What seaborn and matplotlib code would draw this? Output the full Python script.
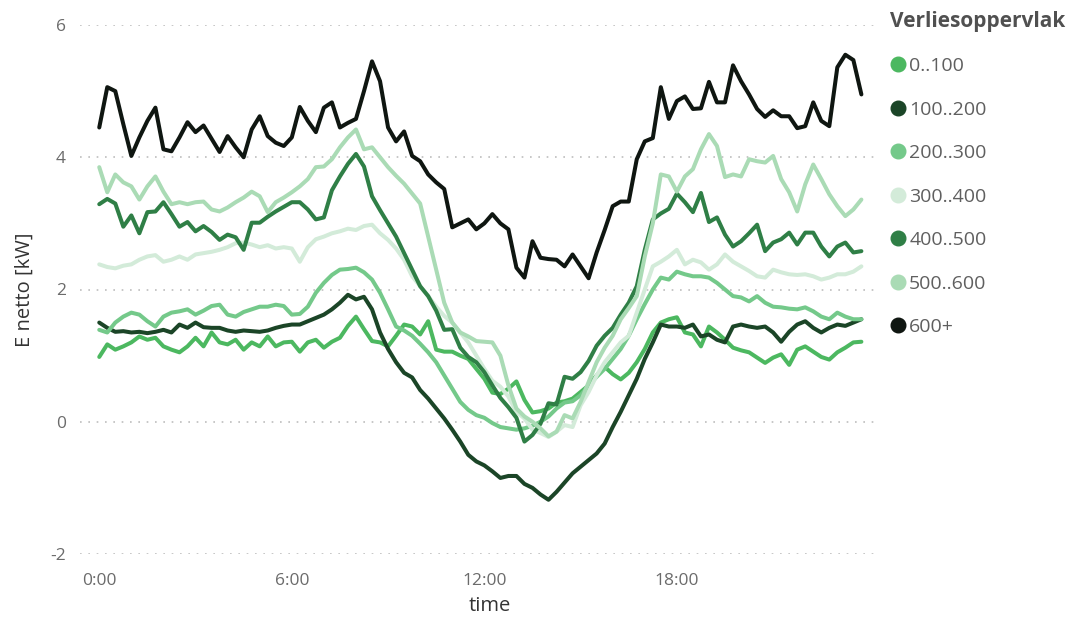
import numpy as np
import pandas as pd
import matplotlib
matplotlib.use("Agg")
import matplotlib.pyplot as plt
from matplotlib.lines import Line2D
import seaborn as sns

# =========================
# DATA (15 minute values, kW)
# =========================

groups = ["0..100", "100..200", "200..300", "300..400", "400..500", "500..600", "600+"]

colors = ["#4cb860", "#1b4527", "#74c98a", "#d3ebd9", "#2f7f46", "#aadbb5", "#0f1611"]

e_0_100 = [
    0.98, 1.17, 1.09, 1.14, 1.2, 1.29, 1.24, 1.27, 1.14, 1.09,
    1.05, 1.14, 1.27, 1.14, 1.35, 1.2, 1.17, 1.24, 1.09, 1.2,
    1.14, 1.29, 1.14, 1.2, 1.21, 1.06, 1.2, 1.24, 1.12, 1.21,
    1.27, 1.45, 1.59, 1.4, 1.22, 1.2, 1.14, 1.3, 1.47, 1.44,
    1.32, 1.52, 1.09, 1.06, 1.06, 1.0, 0.95, 0.8, 0.65, 0.44,
    0.42, 0.5, 0.61, 0.33, 0.14, 0.16, 0.2, 0.29, 0.31, 0.35,
    0.45, 0.55, 0.7, 0.83, 0.72, 0.64, 0.74, 0.9, 1.1, 1.35,
    1.5, 1.55, 1.58, 1.35, 1.32, 1.14, 1.44, 1.35, 1.24, 1.12,
    1.08, 1.05, 0.97, 0.89, 0.97, 1.02, 0.86, 1.09, 1.14, 1.06,
    0.98, 0.94, 1.05, 1.12, 1.2, 1.21,
]

e_100_200 = [
    1.5, 1.42, 1.36, 1.37, 1.35, 1.36, 1.34, 1.36, 1.39, 1.35,
    1.47, 1.42, 1.5, 1.43, 1.42, 1.42, 1.38, 1.36, 1.38, 1.37,
    1.36, 1.38, 1.42, 1.45, 1.47, 1.47, 1.52, 1.57, 1.62, 1.7,
    1.8, 1.92, 1.85, 1.89, 1.7, 1.35, 1.1, 0.9, 0.74, 0.67,
    0.48, 0.35, 0.2, 0.05, -0.12, -0.3, -0.5, -0.6, -0.66, -0.75,
    -0.85, -0.82, -0.82, -0.94, -1.0, -1.1, -1.18, -1.06, -0.92, -0.78,
    -0.68, -0.58, -0.48, -0.33, -0.08, 0.15, 0.4, 0.65, 0.95, 1.2,
    1.47, 1.44, 1.44, 1.42, 1.47, 1.29, 1.32, 1.24, 1.2, 1.44,
    1.47, 1.44, 1.42, 1.44, 1.35, 1.21, 1.36, 1.47, 1.52, 1.42,
    1.35, 1.42, 1.47, 1.45, 1.5, 1.55,
]

e_200_300 = [
    1.39, 1.35, 1.5, 1.59, 1.65, 1.62, 1.52, 1.44, 1.59, 1.65,
    1.67, 1.7, 1.62, 1.68, 1.75, 1.77, 1.62, 1.59, 1.66, 1.7,
    1.74, 1.74, 1.77, 1.75, 1.62, 1.63, 1.74, 1.95, 2.1, 2.22,
    2.3, 2.31, 2.33, 2.26, 2.15, 1.95, 1.7, 1.44, 1.38, 1.3,
    1.18, 1.05, 0.9, 0.7, 0.5, 0.3, 0.18, 0.1, 0.06, -0.02,
    -0.08, -0.1, -0.12, -0.1, -0.06, 0.0, 0.08, 0.2, 0.29, 0.31,
    0.4, 0.55, 0.68, 0.8, 0.95, 1.1, 1.3, 1.55, 1.78, 2.0,
    2.18, 2.15, 2.27, 2.23, 2.2, 2.2, 2.18, 2.1, 2.0, 1.9,
    1.88, 1.82, 1.9, 1.8, 1.74, 1.73, 1.71, 1.7, 1.73, 1.67,
    1.59, 1.55, 1.65, 1.59, 1.55, 1.55,
]

e_300_400 = [
    2.38, 2.34, 2.32, 2.36, 2.38, 2.45, 2.5, 2.52, 2.42, 2.45,
    2.5, 2.45, 2.53, 2.55, 2.57, 2.6, 2.64, 2.7, 2.71, 2.68,
    2.64, 2.67, 2.62, 2.64, 2.62, 2.42, 2.64, 2.76, 2.8, 2.85,
    2.88, 2.92, 2.9, 2.96, 2.98, 2.85, 2.75, 2.62, 2.45, 2.2,
    2.05, 1.9, 1.74, 1.6, 1.5, 1.35, 1.2, 1.0, 0.8, 0.62,
    0.53, 0.38, 0.15, 0.05, -0.12, -0.17, -0.23, -0.15, -0.05, -0.08,
    0.25, 0.45, 0.7, 0.9, 1.05, 1.2, 1.3, 1.65, 2.0, 2.35,
    2.42, 2.5, 2.6, 2.38, 2.45, 2.41, 2.3, 2.38, 2.53, 2.42,
    2.35, 2.28, 2.2, 2.18, 2.3, 2.26, 2.23, 2.22, 2.23, 2.2,
    2.15, 2.18, 2.23, 2.23, 2.27, 2.35,
]

e_400_500 = [
    3.29, 3.37, 3.3, 2.95, 3.12, 2.85, 3.17, 3.18, 3.32, 3.14,
    2.95, 3.02, 2.88, 2.96, 2.87, 2.75, 2.83, 2.79, 2.6, 3.01,
    3.01, 3.1, 3.18, 3.25, 3.32, 3.32, 3.21, 3.06, 3.09, 3.5,
    3.71, 3.9, 4.05, 3.86, 3.41, 3.2, 3.0, 2.8, 2.55, 2.3,
    2.05, 1.9, 1.68, 1.39, 1.4, 1.12, 0.98, 0.9, 0.75, 0.55,
    0.36, 0.22, 0.06, -0.3, -0.2, -0.03, 0.28, 0.26, 0.68, 0.65,
    0.75, 0.92, 1.15, 1.3, 1.42, 1.62, 1.8, 2.05, 2.6, 3.06,
    3.15, 3.22, 3.45, 3.32, 3.17, 3.46, 3.02, 3.09, 2.83, 2.65,
    2.73, 2.85, 2.98, 2.58, 2.71, 2.76, 2.86, 2.68, 2.86, 2.86,
    2.65, 2.5, 2.65, 2.71, 2.56, 2.58,
]

e_500_600 = [
    3.85, 3.47, 3.74, 3.62, 3.56, 3.36, 3.56, 3.71, 3.48, 3.29,
    3.32, 3.29, 3.32, 3.33, 3.21, 3.18, 3.24, 3.32, 3.39, 3.48,
    3.41, 3.17, 3.32, 3.39, 3.47, 3.56, 3.67, 3.85, 3.86, 3.97,
    4.15, 4.3, 4.42, 4.12, 4.15, 4.0, 3.85, 3.72, 3.6, 3.45,
    3.3, 2.8, 2.3, 1.8, 1.5, 1.35, 1.29, 1.22, 1.21, 1.2,
    1.0, 0.55, 0.2, 0.08, 0.0, -0.1, -0.22, -0.15, 0.1, 0.05,
    0.3, 0.6, 0.9, 1.12, 1.3, 1.55, 1.72, 1.9, 2.5, 3.0,
    3.74, 3.71, 3.48, 3.71, 3.82, 4.12, 4.35, 4.17, 3.7, 3.74,
    3.71, 3.97, 3.94, 3.92, 4.02, 3.67, 3.47, 3.18, 3.59, 3.89,
    3.67, 3.44, 3.26, 3.11, 3.21, 3.36,
]

e_600_plus = [
    4.45, 5.06, 5.0, 4.5, 4.02, 4.3, 4.55, 4.75, 4.12, 4.09,
    4.3, 4.53, 4.38, 4.48, 4.28, 4.08, 4.32, 4.15, 4.0, 4.42,
    4.62, 4.32, 4.22, 4.17, 4.3, 4.76, 4.55, 4.38, 4.75, 4.83,
    4.45, 4.52, 4.58, 5.0, 5.45, 5.15, 4.45, 4.24, 4.39, 4.02,
    3.94, 3.74, 3.62, 3.52, 2.94, 3.0, 3.06, 2.91, 3.0, 3.14,
    3.0, 2.91, 2.33, 2.18, 2.73, 2.48, 2.46, 2.45, 2.35, 2.53,
    2.35, 2.17, 2.56, 2.9, 3.26, 3.33, 3.33, 3.97, 4.24, 4.29,
    5.06, 4.58, 4.85, 4.92, 4.73, 4.74, 5.14, 4.83, 4.83, 5.39,
    5.15, 4.95, 4.73, 4.61, 4.71, 4.62, 4.62, 4.44, 4.47, 4.83,
    4.55, 4.47, 5.36, 5.55, 5.47, 4.95,
]

series = [e_0_100, e_100_200, e_200_300, e_300_400, e_400_500, e_500_600, e_600_plus]

hours = np.arange(96) * 0.25

tick_hours = [0, 6, 12, 18]
tick_labels = ["0:00", "6:00", "12:00", "18:00"]

# =========================
# LONG FORMAT TABLE
# =========================

frames = []
for name, vals in zip(groups, series):
    frames.append(pd.DataFrame({"time": hours, "E": vals, "Verliesoppervlak": name}))
df = pd.concat(frames, ignore_index=True)

# =========================
# PLOT
# =========================

sns.set_style("white")
plt.rcParams["font.family"] = ["Open Sans", "DejaVu Sans"]
plt.rcParams["axes.unicode_minus"] = False

fig = plt.figure(figsize=(10.72, 6.17), dpi=100)
ax = fig.add_axes([80 / 1072, 63 / 617, 800 / 1072, 529 / 617])

sns.lineplot(
    data=df,
    x="time",
    y="E",
    hue="Verliesoppervlak",
    hue_order=groups,
    palette=dict(zip(groups, colors)),
    linewidth=2.9,
    legend=False,
    ax=ax
)

ax.set_xlim(-0.6, 24.33)
ax.set_ylim(-2, 6)
ax.set_yticks([-2, 0, 2, 4, 6])
ax.set_xticks(tick_hours)
ax.set_xticklabels(tick_labels)

ax.grid(axis="y", linestyle=(0, (1, 4)), color="#bdbdbd", linewidth=1.2)
ax.grid(axis="x", visible=False)
sns.despine(ax=ax, left=True, bottom=True)

ax.tick_params(axis="both", length=0, labelsize=12.5, labelcolor="#6b6b6b")
ax.tick_params(axis="y", pad=10)
ax.tick_params(axis="x", pad=14)

ax.set_xlabel("time", fontsize=14.5, color="#333333")
ax.set_ylabel("E netto [kW]", fontsize=14.5, color="#333333")
ax.xaxis.set_label_coords(0.5125, -0.098)
ax.xaxis.label.set_verticalalignment("center")
ax.yaxis.set_label_coords(-0.069, 0.5)
ax.yaxis.label.set_verticalalignment("center")

# legend with round markers
handles = [
    Line2D([0], [0], marker="o", color="none", markerfacecolor=c,
           markeredgecolor=c, markersize=10.5)
    for c in colors
]
leg = fig.legend(
    handles,
    groups,
    title="Verliesoppervlak",
    loc="upper left",
    bbox_to_anchor=(882 / 1072, 1 - 3 / 617),
    frameon=False,
    fontsize=14,
    title_fontproperties={"weight": "bold", "size": 15},
    labelcolor="#5f5f5f",
    handlelength=0.8,
    handletextpad=0.2,
    labelspacing=1.31,
    borderaxespad=0,
    alignment="left",
)
leg.get_title().set_color("#505050")

plt.savefig("out.png", dpi=100)
